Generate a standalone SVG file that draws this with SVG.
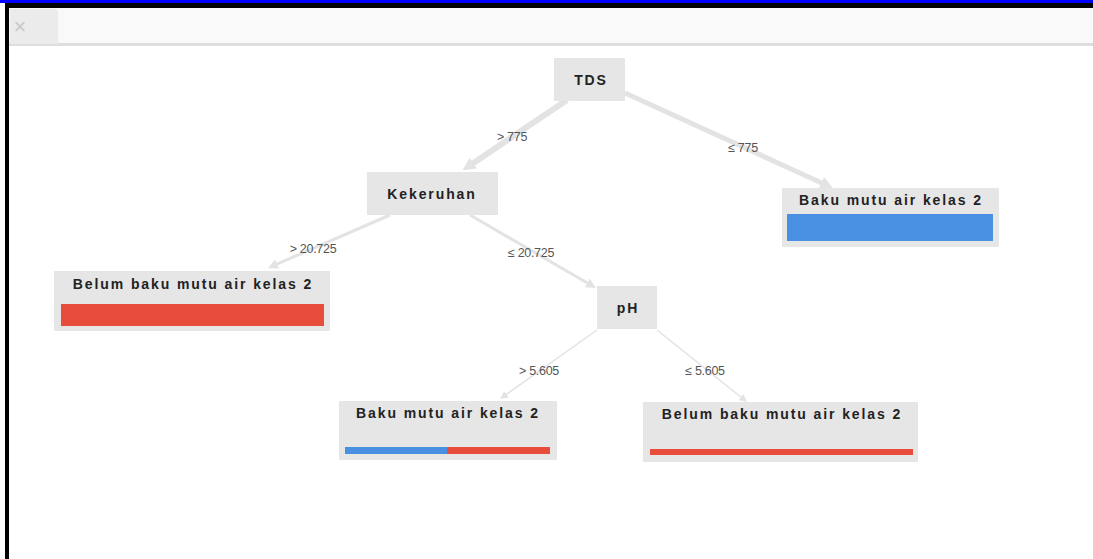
<svg xmlns="http://www.w3.org/2000/svg" width="1093" height="559" viewBox="0 0 1093 559">
  <style>
    .node { fill: #e6e6e6; }
    .ntext { font-family: "Liberation Sans", Arial, sans-serif; font-weight: bold; font-size: 14px; letter-spacing: 1.9px; fill: #222; text-anchor: middle; }
    .elabel { font-family: "Liberation Sans", Arial, sans-serif; font-size: 12.5px; letter-spacing: -0.3px; fill: #555; text-anchor: middle; }
    .edge { fill: none; stroke: #e3e3e3; }
    .blue { fill: #4a90e2; }
    .red { fill: #e74c3c; }
  </style>
  <defs>
    <marker id="arrL" viewBox="0 0 10 10" refX="4" refY="5" markerWidth="13" markerHeight="13" markerUnits="userSpaceOnUse" orient="auto">
      <path d="M0,0 L10,5 L0,10 z" fill="#e3e3e3"/>
    </marker>
    <marker id="arrM" viewBox="0 0 10 10" refX="4" refY="5" markerWidth="10" markerHeight="10" markerUnits="userSpaceOnUse" orient="auto">
      <path d="M0,0 L10,5 L0,10 z" fill="#e3e3e3"/>
    </marker>
    <marker id="arrS" viewBox="0 0 10 10" refX="4" refY="5" markerWidth="8" markerHeight="8" markerUnits="userSpaceOnUse" orient="auto">
      <path d="M0,0 L10,5 L0,10 z" fill="#e3e3e3"/>
    </marker>
  </defs>

  <!-- window frame -->
  <rect x="0" y="0" width="1093" height="559" fill="#ffffff"/>
  <rect x="0" y="0" width="1093" height="3" fill="#0000ff"/>
  <rect x="5" y="3" width="1088" height="5" fill="#000000"/>
  <rect x="5" y="3" width="4" height="556" fill="#000000"/>
  <rect x="9" y="8" width="1084" height="36" fill="#f9f9f9"/>
  <rect x="9" y="43" width="1084" height="3" fill="#dedede"/>
  <path d="M10,9 H54 Q58,9 58,13 V44 H10 z" fill="#ebebeb"/>
  <text x="20" y="34" font-family="Liberation Sans, Arial, sans-serif" font-size="22" fill="#c8c8c8" text-anchor="middle">×</text>

  <g id="connectors">
    <line class="edge" x1="567" y1="100" x2="469" y2="166" stroke-width="6" marker-end="url(#arrL)"/>
    <line class="edge" x1="625" y1="93" x2="826" y2="185" stroke-width="5" marker-end="url(#arrL)"/>
    <line class="edge" x1="390" y1="215" x2="273.5" y2="265.6" stroke-width="3" marker-end="url(#arrM)"/>
    <line class="edge" x1="470" y1="215" x2="590.8" y2="285" stroke-width="3" marker-end="url(#arrM)"/>
    <line class="edge" x1="597" y1="330" x2="503.9" y2="396.2" stroke-width="1.5" marker-end="url(#arrS)"/>
    <line class="edge" x1="657" y1="330" x2="743.3" y2="399" stroke-width="1.5" marker-end="url(#arrS)"/>
    <text class="elabel" x="512" y="141">&gt; 775</text>
    <text class="elabel" x="743" y="152">≤ 775</text>
    <text class="elabel" x="313" y="253">&gt; 20.725</text>
    <text class="elabel" x="531" y="257">≤ 20.725</text>
    <text class="elabel" x="539" y="375">&gt; 5.605</text>
    <text class="elabel" x="705" y="375">≤ 5.605</text>
  </g>

  <g id="node-tds">
    <rect class="node" x="554" y="58" width="71" height="43"/>
    <text class="ntext" x="591" y="85">TDS</text>
  </g>
  <g id="node-kekeruhan">
    <rect class="node" x="367" y="172" width="131" height="43"/>
    <text class="ntext" x="432" y="199">Kekeruhan</text>
  </g>
  <g id="node-baku-right">
    <rect class="node" x="782" y="188" width="217" height="59"/>
    <text class="ntext" x="891" y="205">Baku mutu air kelas 2</text>
    <rect class="blue" x="787" y="214" width="206" height="27"/>
  </g>
  <g id="node-belum-left">
    <rect class="node" x="54" y="271" width="276" height="60"/>
    <text class="ntext" x="193" y="289">Belum baku mutu air kelas 2</text>
    <rect class="red" x="61" y="304" width="263" height="22"/>
  </g>
  <g id="node-ph">
    <rect class="node" x="597" y="286" width="60" height="43"/>
    <text class="ntext" x="628" y="313">pH</text>
  </g>
  <g id="node-baku-bottom">
    <rect class="node" x="339" y="401" width="218" height="59"/>
    <text class="ntext" x="448" y="418">Baku mutu air kelas 2</text>
    <rect class="blue" x="345" y="447" width="102" height="7"/>
    <rect class="red" x="447" y="447" width="103" height="7"/>
  </g>
  <g id="node-belum-bottom">
    <rect class="node" x="643" y="402" width="275" height="60"/>
    <text class="ntext" x="782" y="419">Belum baku mutu air kelas 2</text>
    <rect class="red" x="650" y="449" width="263" height="6"/>
  </g>
</svg>
